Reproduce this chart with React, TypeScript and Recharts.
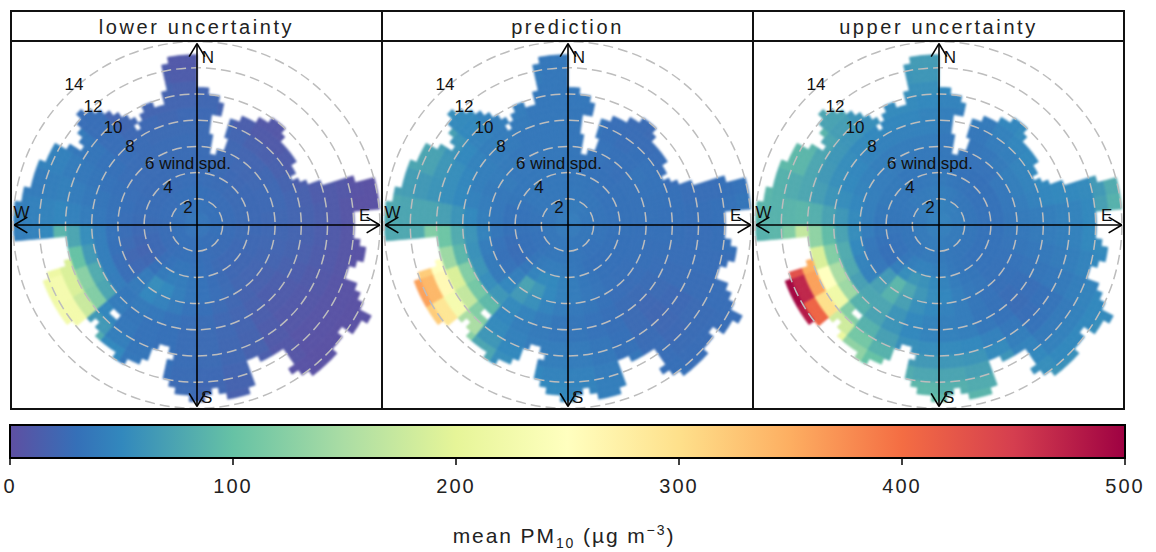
import React from 'react';
import {
  Bar,
  BarChart,
  Pie,
  PieChart,
  PolarGrid,
  ReferenceLine,
  Scatter,
  ScatterChart,
  XAxis,
  YAxis
} from 'recharts';

const FONT = '"Liberation Sans", Arial, sans-serif';
const PX_PER_SPEED = 13.1;
const SPEED_BIN = 0.5;
const RING_COUNT = 30;
const COARSE_RINGS = 10;
const PANEL_W = 371;
const PANEL_H = 370;
const CX = 186;
const CY = 185;

const panelTitles = ['lower uncertainty', 'prediction', 'upper uncertainty'];

// colour key, reversed Spectral with an extra blue stop
const keyStops = [0, 30, 50, 100, 150, 200, 250, 300, 350, 400, 450, 500];
const keyColours = ['#5E4FA2', '#3570B8', '#3288BD', '#66C2A5', '#ABDDA4', '#E6F598', '#FFFFBF', '#FEE08B', '#FDAE61', '#F46D43', '#D53E4F', '#9E0142'];
const keyTicks = [0, 100, 200, 300, 400, 500];

// furthest wind speed reached in each 2.5 degree sector, clockwise from north
const sectorReach = [
  10.4, 10.3, 10.2, 10.1, 9.4, 5.65, 5.9, 8.5,
  8.6, 8.76, 8.93, 9.14, 9.37, 9.65, 9.95, 10.1,
  9.96, 9.5, 9.1, 8.87, 8.8, 9.08, 8.8, 8.57,
  8.36, 8.17, 8.3, 8.85, 10, 12.4, 14.05, 13.9,
  13.8, 13.75, 12, 12.07,
  12.07, 12.1, 12.67, 13, 13.15, 12.6, 12.1, 12.2,
  12.85, 13.35, 14.2, 14.9, 14.7, 14.3, 13.65, 14.05,
  14.2, 14.25, 14.4, 14.6, 14.35, 13.9, 13.5, 11.6,
  11.4, 11.25, 11.2, 11.15, 13.1, 13.4, 13.6, 13.5,
  13, 12.6, 13.15, 13.6,
  13.5, 13.15, 12.8, 12.4, 12.05, 9.57, 9.55, 9.8,
  11.15, 11.6, 11.7, 11.8, 11.8, 11.7, 11.6, 11.7,
  11.3, 10.8, 10.7, 11.2, 11.95, 12.5, 12.5, 12.5,
  12.45, 12.3, 12.25, 12.3, 12.15, 10.33, 10.2, 10.15,
  10.1, 10.06, 14, 14.2,
  14.2, 14.2, 14, 13.4, 13.3, 12.9, 12.9, 12.8,
  12.77, 12.7, 12.6, 12.3, 11.5, 10.7, 11, 11.3,
  11.8, 12.25, 11.75, 11.4, 11, 10.6, 10.1, 9.6,
  8.9, 9.67, 9.85, 9.83, 9.7, 9.62, 10.27, 12.45,
  12.9, 13, 13, 13
];

// white gaps inside the footprint: [sector, from speed, to speed]
const sectorGaps = [
  [3, 7, 8.3],
  [4, 5.45, 8.4],
  [7, 6.05, 6.9],
  [58, 11.4, 13.05],
  [76, 9.85, 10.25],
  [88, 9, 9.5],
  [89, 9, 9.5],
  [131, 8.3, 9.12]
];

// one row per 10 degree direction, one column per 1 m/s speed bin
const lowerValues = [
  [34, 32, 30, 28, 26, 26, 25, 25, 24, 22, 20],
  [34, 32, 29, 27, 26, 25, 24, 23, 20, 18, 15],
  [34, 31, 28, 26, 25, 24, 22, 20, 14, 10],
  [34, 31, 28, 26, 24, 23, 20, 16, 10, 8],
  [34, 30, 27, 25, 23, 22, 20, 15, 10, 7],
  [34, 30, 27, 25, 24, 23, 22, 16, 12],
  [33, 30, 27, 25, 24, 24, 23, 18, 14],
  [33, 30, 27, 25, 24, 24, 23, 20, 16, 12, 10, 8, 4, 3],
  [33, 30, 27, 25, 24, 23, 22, 20, 17, 14, 10, 6, 3, 3],
  [33, 30, 27, 25, 24, 23, 21, 19, 16, 13, 10, 6, 4, 3],
  [33, 30, 27, 25, 23, 22, 20, 18, 15, 12, 9, 6, 4, 3],
  [33, 30, 26, 24, 23, 21, 19, 16, 13, 10, 8, 5, 4, 3, 3],
  [33, 29, 26, 24, 22, 20, 17, 14, 11, 9, 7, 5, 4, 3, 3],
  [33, 29, 26, 24, 22, 20, 16, 13, 11, 9, 7, 5, 4, 3, 3],
  [33, 29, 26, 24, 23, 21, 18, 16, 14, 12, 10, 8, 6, 4, 3],
  [33, 29, 27, 25, 25, 25, 22, 20, 19, 18, 17, 14, 12, 10],
  [33, 30, 28, 28, 28, 28, 25, 23, 23, 22, 22, 20, 18, 16],
  [33, 30, 29, 30, 32, 32, 29, 26, 25, 25, 25, 24, 22, 20],
  [33, 30, 30, 32, 36, 36, 32, 28, 27, 27, 27, 26, 25, 24],
  [33, 30, 31, 34, 40, 42, 38, 32, 30, 30, 30, 28, 28],
  [33, 30, 30, 34, 42, 50, 44, 36, 32, 32, 34, 36],
  [33, 30, 29, 32, 38, 54, 48, 38, 34, 36, 42, 50],
  [33, 30, 28, 28, 30, 38, 38, 36, 40, 48, 64, 80],
  [33, 30, 27, 24, 22, 24, 28, 40, 75, 120, 175, 225, 225],
  [33, 30, 27, 24, 20, 22, 28, 42, 80, 125, 190, 230, 220],
  [32, 30, 27, 24, 22, 25, 30, 42, 65, 100, 190, 215, 210],
  [33, 30, 27, 25, 24, 27, 32, 42, 55, 75, 88, 50, 45, 42, 40],
  [33, 30, 27, 26, 26, 28, 32, 36, 40, 44, 48, 46, 44, 42, 42],
  [33, 30, 28, 27, 27, 29, 31, 34, 37, 40, 43, 42, 40, 40],
  [33, 31, 28, 27, 27, 28, 30, 32, 34, 37, 40, 44, 45],
  [34, 31, 28, 27, 26, 27, 28, 30, 32, 34, 36, 38, 38],
  [34, 31, 28, 27, 26, 26, 27, 28, 28, 28, 28, 28, 28],
  [34, 31, 29, 27, 26, 26, 26, 26, 24, 22, 20],
  [34, 32, 29, 27, 26, 26, 26, 25, 24, 20],
  [34, 32, 29, 28, 26, 26, 26, 25, 22, 20, 18, 14, 12],
  [34, 32, 30, 28, 26, 26, 26, 25, 24, 20, 16, 12, 9, 8]
];

const predictionValues = [
  [40, 38, 36, 35, 34, 34, 34, 34, 35, 36, 36],
  [40, 38, 36, 35, 33, 33, 33, 33, 33, 34, 35],
  [40, 38, 35, 34, 32, 32, 32, 30, 28, 26],
  [40, 38, 34, 33, 31, 30, 30, 28, 27, 26],
  [40, 37, 34, 32, 30, 29, 30, 30, 27, 25],
  [40, 37, 34, 32, 31, 31, 33, 32, 28],
  [40, 36, 33, 32, 31, 31, 32, 32, 28],
  [40, 36, 33, 32, 31, 31, 31, 31, 30, 28, 28, 28, 30, 32],
  [40, 36, 33, 32, 31, 31, 31, 30, 30, 29, 29, 30, 32, 34],
  [38, 36, 33, 32, 31, 30, 30, 30, 29, 28, 28, 29, 30, 30],
  [38, 36, 33, 31, 30, 30, 29, 29, 28, 28, 28, 28, 28, 30],
  [38, 35, 33, 31, 30, 30, 29, 28, 27, 27, 27, 27, 28, 28, 28],
  [38, 35, 32, 31, 30, 29, 28, 26, 25, 24, 24, 25, 26, 27, 28],
  [38, 35, 32, 30, 30, 29, 27, 25, 23, 22, 23, 24, 26, 27, 28],
  [38, 35, 32, 30, 31, 30, 28, 26, 25, 25, 26, 27, 28, 29, 30],
  [38, 35, 33, 31, 33, 33, 31, 29, 29, 30, 31, 34, 36, 38],
  [38, 36, 34, 34, 36, 36, 34, 32, 32, 35, 37, 40, 42, 42],
  [38, 36, 35, 36, 40, 40, 37, 34, 34, 38, 40, 44, 46, 48],
  [38, 36, 36, 38, 44, 44, 40, 35, 36, 40, 42, 46, 50, 50],
  [38, 36, 36, 40, 50, 50, 46, 40, 38, 40, 42, 48, 50],
  [38, 36, 36, 40, 52, 62, 56, 46, 42, 44, 50, 55],
  [38, 35, 34, 38, 46, 72, 64, 52, 48, 52, 62, 75],
  [38, 35, 33, 34, 36, 42, 48, 62, 92, 120, 150, 125],
  [38, 35, 32, 30, 28, 32, 38, 55, 110, 170, 230, 290, 320],
  [38, 35, 32, 30, 27, 30, 38, 60, 120, 190, 260, 340, 360],
  [38, 35, 32, 30, 28, 32, 40, 58, 90, 140, 250, 320, 330],
  [38, 35, 33, 31, 31, 35, 45, 60, 80, 105, 120, 80, 78, 78, 80],
  [38, 35, 33, 32, 32, 36, 42, 50, 60, 70, 75, 75, 75, 78, 80],
  [38, 35, 33, 32, 32, 36, 40, 44, 50, 55, 60, 64, 68, 70],
  [38, 35, 34, 33, 35, 36, 38, 42, 48, 55, 62, 72, 75],
  [38, 36, 36, 36, 36, 38, 40, 42, 45, 50, 60, 70, 72],
  [38, 36, 36, 36, 36, 36, 38, 40, 42, 45, 50, 52, 55],
  [38, 36, 36, 36, 36, 36, 36, 38, 40, 42, 45],
  [38, 36, 36, 36, 36, 36, 36, 36, 38, 40],
  [38, 37, 36, 36, 36, 36, 36, 36, 36, 36, 36, 38, 38],
  [40, 38, 36, 36, 36, 36, 36, 36, 36, 36, 36, 36, 36, 36]
];

const upperValues = [
  [44, 44, 42, 38, 36, 36, 36, 38, 42, 46, 50],
  [44, 43, 40, 36, 34, 34, 36, 36, 40, 46, 52],
  [44, 42, 38, 34, 32, 32, 34, 36, 38, 42],
  [44, 42, 36, 33, 31, 32, 36, 40, 44, 48],
  [44, 41, 35, 32, 30, 32, 38, 42, 48, 52],
  [44, 40, 35, 32, 31, 36, 42, 46, 50],
  [44, 40, 34, 32, 32, 36, 42, 46, 50],
  [43, 40, 34, 32, 32, 36, 40, 44, 48, 50, 50, 52, 65, 80],
  [43, 40, 34, 32, 32, 35, 38, 40, 42, 44, 46, 50, 70, 85],
  [42, 38, 34, 32, 32, 34, 36, 38, 40, 42, 44, 50, 52, 55],
  [42, 38, 34, 32, 32, 33, 34, 36, 37, 39, 42, 46, 50, 50],
  [42, 38, 34, 32, 32, 32, 32, 33, 34, 36, 38, 42, 46, 50, 52],
  [42, 38, 34, 32, 32, 31, 30, 29, 28, 30, 33, 38, 44, 50, 55],
  [42, 38, 34, 32, 32, 31, 29, 27, 26, 28, 32, 38, 44, 50, 56],
  [42, 38, 34, 33, 34, 34, 32, 31, 32, 36, 42, 46, 50, 55, 60],
  [42, 38, 35, 34, 36, 37, 35, 34, 36, 44, 52, 60, 62, 64],
  [42, 40, 36, 37, 40, 42, 40, 40, 42, 50, 60, 70, 80, 88],
  [42, 40, 38, 40, 46, 48, 44, 42, 44, 52, 62, 74, 84, 92],
  [42, 40, 38, 42, 52, 54, 50, 46, 46, 54, 64, 76, 90, 96],
  [42, 40, 38, 44, 58, 62, 56, 50, 50, 56, 66, 80, 94],
  [42, 40, 38, 44, 62, 76, 70, 60, 60, 70, 85, 100],
  [42, 38, 36, 42, 54, 90, 85, 75, 72, 85, 110, 130],
  [42, 38, 35, 36, 42, 64, 70, 75, 85, 120, 180, 210],
  [42, 38, 34, 32, 30, 36, 44, 70, 140, 220, 300, 410, 480],
  [42, 38, 34, 32, 30, 34, 46, 78, 150, 250, 360, 470, 495],
  [42, 38, 34, 32, 32, 36, 50, 80, 120, 190, 350, 430, 440],
  [42, 38, 34, 33, 34, 40, 54, 72, 95, 130, 170, 120, 90, 85, 90],
  [42, 38, 35, 34, 36, 42, 52, 62, 72, 84, 90, 88, 86, 88, 92],
  [42, 38, 36, 35, 37, 42, 48, 54, 60, 68, 76, 80, 85, 90],
  [42, 38, 36, 36, 38, 42, 46, 50, 56, 64, 76, 90, 92],
  [43, 40, 37, 36, 38, 40, 44, 48, 54, 62, 75, 88, 90],
  [43, 40, 38, 36, 38, 40, 42, 46, 52, 60, 68, 72, 75],
  [43, 40, 38, 36, 36, 38, 40, 44, 50, 56, 60],
  [44, 41, 38, 36, 36, 37, 40, 44, 48, 52],
  [44, 42, 39, 37, 36, 37, 40, 44, 48, 52, 56, 60, 62],
  [44, 43, 40, 38, 36, 37, 40, 44, 46, 50, 56, 62, 66, 68]
];

const panelValues = [lowerValues, predictionValues, upperValues];

const gridSpeeds = [2, 4, 6, 8, 10, 12, 14];

// speed labels and compass letters, in wind speed units from the centre
const plotLabels = [
  { x: -0.69, y: 1.32, text: '2' },
  { x: -2.21, y: 2.88, text: '4' },
  { x: -0.69, y: 4.7, text: '6 wind spd.' },
  { x: -5.11, y: 6.03, text: '8' },
  { x: -6.41, y: 7.48, text: '10' },
  { x: -7.94, y: 9.01, text: '12' },
  { x: -9.39, y: 10.69, text: '14' },
  { x: 0.84, y: 12.8, text: 'N' },
  { x: 12.8, y: 0.76, text: 'E' },
  { x: 0.73, y: -13.2, text: 'S' },
  { x: -13.4, y: 0.92, text: 'W' }
];

// compass axes and their open arrow heads
const axisSegments = [
  [0, -13.85, 0, 13.85],
  [-13.95, 0, 13.95, 0],
  [0, 13.85, -0.6, 12.85],
  [0, 13.85, 0.6, 12.85],
  [0, -13.85, -0.6, -12.85],
  [0, -13.85, 0.6, -12.85],
  [13.95, 0, 12.95, 0.6],
  [13.95, 0, 12.95, -0.6],
  [-13.95, 0, -12.95, 0.6],
  [-13.95, 0, -12.95, -0.6]
];

const colourFor = (value: number) => {
  let i = 0;
  while (i < keyStops.length - 2 && value > keyStops[i + 1]) i++;
  const t = Math.min(1, Math.max(0, (value - keyStops[i]) / (keyStops[i + 1] - keyStops[i])));
  const a = parseInt(keyColours[i].slice(1), 16);
  const b = parseInt(keyColours[i + 1].slice(1), 16);
  const mix = (shift: number) => {
    const ca = (a >> shift) & 255;
    const cb = (b >> shift) & 255;
    return Math.round(ca + (cb - ca) * t);
  };
  return `rgb(${mix(16)},${mix(8)},${mix(0)})`;
};

const coarseCells = (table: number[][], ring: number) =>
  table.map(row => {
    const colour = colourFor(row[Math.floor(ring * SPEED_BIN)]);
    return { share: 10, fill: colour, stroke: colour };
  });

const fineCells = (table: number[][], ring: number) =>
  sectorReach.map((reach, sector) => {
    const mid = (ring + 0.5) * SPEED_BIN;
    const value = table[Math.floor(sector / 4)][Math.floor(mid)];
    const inGap = sectorGaps.some(g => g[0] === sector && mid >= g[1] && mid <= g[2]);
    const shown = value !== undefined && mid <= reach && !inGap;
    const colour = shown ? colourFor(value) : 'none';
    return { share: 2.5, fill: colour, stroke: colour };
  });

const rings = Array.from({ length: RING_COUNT }, (_, i) => i);

function WindPanel({ index }: { index: number }) {
  const table = panelValues[index];
  const layer: React.CSSProperties = { position: 'absolute', left: 0, top: 0 };
  return (
    <div style={{ position: 'absolute', left: 11 + index * PANEL_W, top: 40, width: PANEL_W, height: PANEL_H }}>
      <div style={{ ...layer, filter: 'blur(0.8px)' }}>
        <PieChart width={PANEL_W} height={PANEL_H} margin={{ top: 0, right: 0, bottom: 0, left: 0 }}>
          {rings.map(ring => (
            <Pie
              key={ring}
              data={ring < COARSE_RINGS ? coarseCells(table, ring) : fineCells(table, ring)}
              dataKey="share"
              cx={CX}
              cy={CY}
              startAngle={90}
              endAngle={-270}
              innerRadius={ring * SPEED_BIN * PX_PER_SPEED}
              outerRadius={(ring + 1) * SPEED_BIN * PX_PER_SPEED}
              strokeWidth={0.7}
              label={false}
              labelLine={false}
              isAnimationActive={false}
            />
          ))}
        </PieChart>
      </div>
      <div style={layer}>
        <PieChart width={PANEL_W} height={PANEL_H} margin={{ top: 0, right: 0, bottom: 0, left: 0 }}>
          <PolarGrid
            cx={CX}
            cy={CY}
            gridType="circle"
            radialLines={false}
            polarAngles={[]}
            polarRadius={gridSpeeds.map(s => s * PX_PER_SPEED)}
            stroke="#bdbdbd"
            strokeWidth={1.5}
            strokeDasharray="10 5"
          />
        </PieChart>
      </div>
      <div style={layer}>
        <ScatterChart width={PANEL_W} height={PANEL_H} margin={{ top: 0, right: 0, bottom: 0, left: 0 }}>
          <XAxis type="number" dataKey="x" domain={[-CX / PX_PER_SPEED, (PANEL_W - CX) / PX_PER_SPEED]} hide />
          <YAxis type="number" dataKey="y" domain={[-CY / PX_PER_SPEED, CY / PX_PER_SPEED]} hide />
          {axisSegments.map((s, i) => (
            <ReferenceLine
              key={i}
              segment={[{ x: s[0], y: s[1] }, { x: s[2], y: s[3] }]}
              stroke="#000"
              strokeWidth={1.6}
            />
          ))}
          <Scatter
            data={plotLabels}
            isAnimationActive={false}
            shape={(p: any) => (
              <text
                x={p.cx}
                y={p.cy}
                textAnchor="middle"
                dominantBaseline="central"
                fontFamily={FONT}
                fontSize={17}
                fill="#111"
              >
                {p.payload.text}
              </text>
            )}
          />
        </ScatterChart>
      </div>
      <div
        style={{
          position: 'absolute',
          left: -1,
          top: 0,
          width: PANEL_W + 2,
          height: PANEL_H,
          boxSizing: 'border-box',
          border: '2px solid #111'
        }}
      />
      <div
        style={{
          position: 'absolute',
          left: -1,
          top: -30,
          width: PANEL_W + 2,
          height: 32,
          boxSizing: 'border-box',
          border: '2px solid #111',
          textAlign: 'center',
          font: `20px ${FONT}`,
          letterSpacing: 2.6,
          lineHeight: '16px',
          paddingTop: 7,
          color: '#222'
        }}
      >
        {panelTitles[index]}
      </div>
    </div>
  );
}

const keyData = [{ name: 'key', top: 500 }];

function KeyTitle() {
  return (
    <text x={564} y={123} textAnchor="middle" fontFamily={FONT} fontSize={21} letterSpacing={1.9} fill="#222">
      mean PM
      <tspan fontSize={14} dy={5}>10</tspan>
      <tspan dy={-5}> (µg m</tspan>
      <tspan fontSize={14} dy={-8}>−3</tspan>
      <tspan dy={8}>)</tspan>
    </text>
  );
}

export default function App() {
  return (
    <div style={{ position: 'absolute', left: 0, top: 0, width: 1156, height: 552, background: '#fff', overflow: 'hidden' }}>
      {panelTitles.map((_, i) => (
        <WindPanel key={i} index={i} />
      ))}
      <div style={{ position: 'absolute', left: 0, top: 420 }}>
        <BarChart
          width={1156}
          height={132}
          data={keyData}
          layout="vertical"
          barCategoryGap={0}
          margin={{ top: 5, right: 31, bottom: 0, left: 10 }}
        >
          <defs>
            <linearGradient id="spectralKey" x1="0" y1="0" x2="1" y2="0">
              {keyStops.map((s, i) => (
                <stop key={s} offset={s / 500} stopColor={keyColours[i]} />
              ))}
            </linearGradient>
          </defs>
          <XAxis
            type="number"
            domain={[0, 500]}
            ticks={keyTicks}
            interval={0}
            height={94}
            axisLine={false}
            tickSize={7}
            tickMargin={14}
            tickLine={{ stroke: '#000', strokeWidth: 1.5 }}
            tick={{ fontFamily: FONT, fontSize: 20, fill: '#222', letterSpacing: 2 }}
            label={{ content: () => <KeyTitle /> }}
          />
          <YAxis type="category" dataKey="name" hide />
          <Bar dataKey="top" fill="url(#spectralKey)" stroke="#000" strokeWidth={2} isAnimationActive={false} />
        </BarChart>
      </div>
    </div>
  );
}
